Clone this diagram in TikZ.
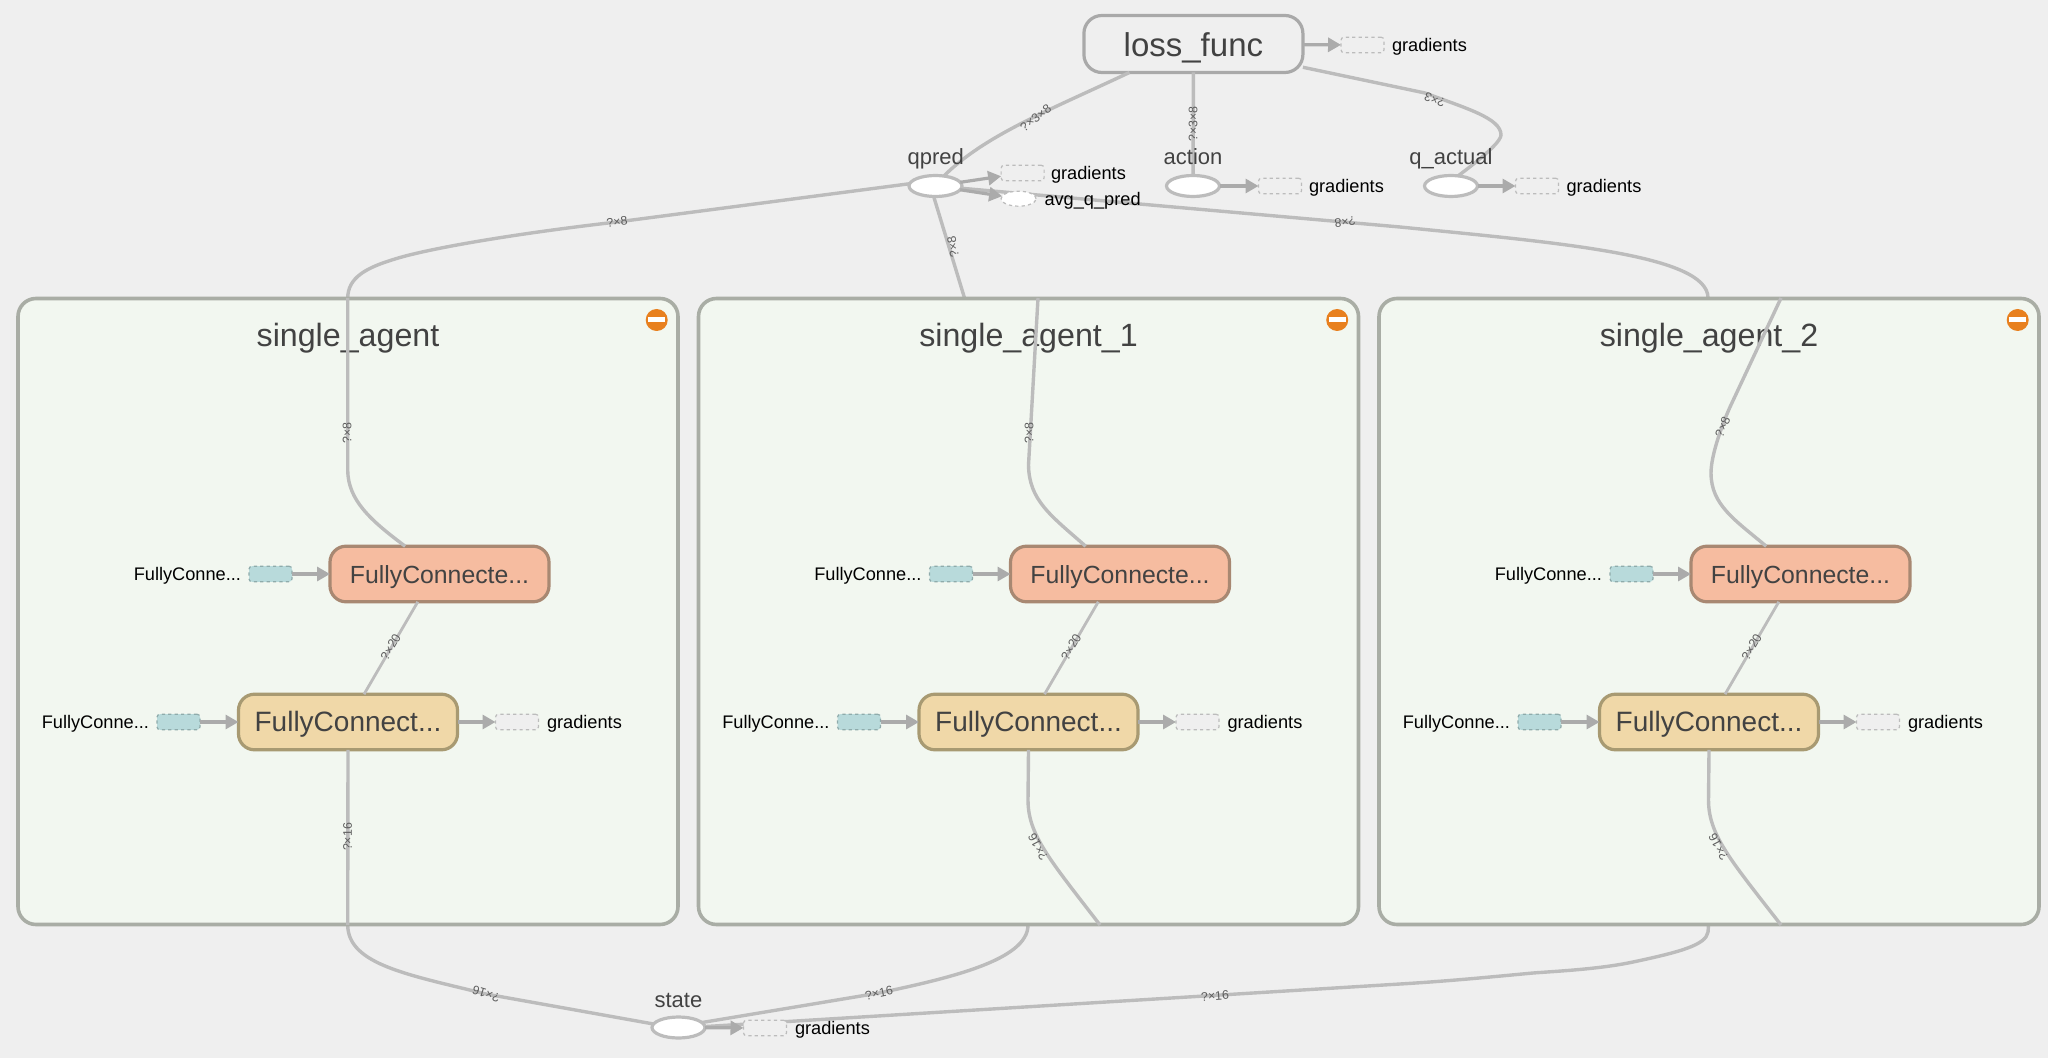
\documentclass[tikz,border=0pt]{standalone}
\usepackage{fontspec}
\setmainfont{Liberation Sans}
\usetikzlibrary{arrows.meta,shapes.geometric}
\definecolor{bgc}{HTML}{EFEFEF}
\definecolor{groupfill}{HTML}{F2F7F0}
\definecolor{groupline}{HTML}{A9ADA5}
\definecolor{edgec}{HTML}{BCBCBC}
\definecolor{tipc}{HTML}{ABABAB}
\definecolor{txt}{HTML}{424242}
\definecolor{salmon}{HTML}{F6BCA0}
\definecolor{salmonline}{HTML}{A88872}
\definecolor{sand}{HTML}{F0D8A8}
\definecolor{sandline}{HTML}{A89A72}
\definecolor{teal}{HTML}{B8DADB}
\definecolor{tealline}{HTML}{8FABAB}
\definecolor{iconc}{HTML}{E8801F}
\tikzset{
  x=0.5pt,y=-0.5pt,
  edge/.style={draw=edgec,line width=1.7pt},
  flow/.style={draw=tipc,line width=1.6pt,-{Triangle[length=6.5pt,width=7pt,fill=tipc]}},
  grouppanel/.style={draw=groupline,fill=groupfill,line width=1.8pt,rounded corners=9pt,minimum width=330pt,minimum height=313pt,inner sep=0pt,outer sep=0pt},
  fcbox/.style={line width=1.6pt,rounded corners=8pt,minimum width=109.5pt,minimum height=27.8pt,inner sep=0pt,outer sep=0pt,text=txt,text depth=0pt},
  fcupper/.style={fcbox,draw=salmonline,fill=salmon,text height=9pt,font=\fontsize{12.4}{14}\selectfont},
  fclower/.style={fcbox,draw=sandline,fill=sand,text height=9.2pt,font=\fontsize{14}{16}\selectfont},
  lossbox/.style={line width=1.6pt,rounded corners=9pt,draw=edgec!90!black,fill=bgc,minimum width=109.5pt,minimum height=28.5pt,inner sep=0pt,outer sep=0pt,text=txt,text height=12.3pt,text depth=0pt,font=\fontsize{16.5}{19}\selectfont},
  opnode/.style={ellipse,draw=edgec,fill=white,line width=1.6pt,minimum width=26.5pt,minimum height=10.5pt,inner sep=0pt,outer sep=0pt},
  dashbox/.style={draw=edgec,fill=bgc,line width=0.6pt,dash pattern=on 1.6pt off 1.6pt,rounded corners=1.5pt,minimum width=21.5pt,minimum height=7.8pt,inner sep=0pt,outer sep=0pt},
  tealbox/.style={dashbox,draw=tealline,fill=teal},
  dashellipse/.style={ellipse,draw=edgec,fill=white,line width=0.6pt,dash pattern=on 1.6pt off 1.6pt,minimum width=17.5pt,minimum height=7.5pt,inner sep=0pt,outer sep=0pt},
  small/.style={inner sep=0pt,outer sep=0pt,text=black,text height=6.3pt,text depth=0pt,font=\fontsize{9.1}{11}\selectfont},
  oplabel/.style={inner sep=0pt,outer sep=0pt,text=txt,text height=8pt,text depth=0pt,font=\fontsize{11}{13}\selectfont},
  grouptitle/.style={inner sep=0pt,outer sep=0pt,text=txt,text height=11.5pt,text depth=0pt,font=\fontsize{16.1}{19}\selectfont},
  shape label/.style={inner sep=0pt,outer sep=0pt,text=txt!85,font=\fontsize{6.2}{7}\selectfont},
}
\begin{document}
\begin{tikzpicture}
\useasboundingbox (0,0) rectangle (2048,1058);
\fill[bgc] (0,0) rectangle (2048,1058);

% top-level operation nodes are named first, so connectors can use them
\node[lossbox] (loss) at (1193.4,44) {loss\_func};
\node[opnode] (qpred) at (935.5,186) {};
\node[opnode] (action) at (1193,186) {};
\node[opnode] (qactual) at (1451,186) {};
\node[opnode] (state) at (678.5,1027.5) {};
\coordinate (top1) at (347.7,298);
\coordinate (top2) at (964.5,298);
\coordinate (top3) at (1708,298);
\coordinate (bot1) at (347.7,925);
\coordinate (bot2) at (1028,925);
\coordinate (bot3) at (1708.5,925);

% edges between the outer nodes, under the group panels
\draw[edge] (qpred.175) -- (617,222) .. controls (520,233) and (430,248) .. (395,259)
   .. controls (365,268) and (348,278) .. (top1);
\draw[edge] (qpred.-100) -- (top2);
\draw[edge] (qpred.-5) -- (1400,227) .. controls (1560,243) and (1708,255) .. (top3);
\draw[edge] (qpred.50) .. controls (985,135) and (1050,110) .. (loss.204.4);
\draw[edge] (action) -- (loss.south);
\draw[edge] (qactual.55) .. controls (1490,152) and (1501,140) .. (1501,135)
   .. controls (1501,118) and (1465,108) .. (1425,93) -- (loss.-12.4);
\draw[edge] (bot1) .. controls (348,965) and (410,975) .. (486,994) -- (state.172);
\draw[edge] (bot2) .. controls (1028,960) and (950,978) .. (879,993) -- (state.12);
\draw[edge] (bot3) -- (1708,932) .. controls (1706,945) and (1680,952) .. (1633,962)
   .. controls (1600,969) and (1560,971) .. (1533,973) .. controls (1490,977) and (1450,981) .. (1400,984) -- (state.2);

% group panels
\foreach \i/\xs/\tt in {1/0/single\_agent,2/680.5/single\_agent\_1,3/1361/single\_agent\_2}{
\begin{scope}[shift={(\xs,0)}]
  \node[grouppanel] (panel\i) at (348,611.5) {};
  \node[grouptitle] (title\i) at (348,335) {\tt};
  \node[circle,fill=iconc,minimum size=11pt,inner sep=0pt] (minus\i) at (656.7,320) {};
  \fill[white] (minus\i.center) +(-8.5,-2.5) rectangle +(8.5,2.5);
  \node[fcupper] (fcu\i) at (439.5,574) {FullyConnecte...};
  \node[fclower] (fcl\i) at (348,722) {FullyConnect...};
  \node[tealbox] (tu\i) at (270.5,574) {};
  \node[tealbox] (tl\i) at (178.5,722) {};
  \node[dashbox] (gr\i) at (517,722) {};
  \node[small,anchor=east] (tul\i) at (241,574) {FullyConne...};
  \node[small,anchor=east] (tll\i) at (149,722) {FullyConne...};
  \node[small,anchor=west] (grl\i) at (547,722) {gradients};
  \draw[flow] (tu\i) -- (fcu\i);
  \draw[flow] (tl\i) -- (fcl\i);
  \draw[flow] (fcl\i) -- (gr\i);
  \draw[edge,line width=1.4pt] (fcl\i.60) -- (fcu\i.232);
  \node[shape label,rotate=60] (lab20\i) at (390.6,647) {?×20};
\end{scope}
}

% edges inside the panels
\coordinate (in2) at (1038,298);
\coordinate (in3) at (1781,298);
\coordinate (out2) at (1100,925);
\coordinate (out3) at (1781,925);
\draw[edge] (fcu1.141) .. controls (370,520) and (348,500) .. (347.7,470) -- (top1);
\draw[edge] (fcu2.141) .. controls (1050,515) and (1029,500) .. (1028.5,465) -- (in2);
\draw[edge] (fcu3.141) .. controls (1735,520) and (1711,505) .. (1711,473)
   .. controls (1711,455) and (1722,425) .. (1730,407) -- (in3);
\draw[edge] (fcl1.south) -- (bot1);
\draw[edge] (fcl2.south) -- (1028,800) .. controls (1028,835) and (1050,860) .. (out2);
\draw[edge] (fcl3.south) -- (1708.5,800) .. controls (1708.5,835) and (1730.5,860) .. (out3);

% top labels and remaining nodes
\node[oplabel] (qpredl) at (935.8,157) {qpred};
\node[oplabel] (actionl) at (1193,157) {action};
\node[oplabel] (qactuall) at (1451,157) {q\_actual};
\node[oplabel] (statel) at (678.4,999) {state};
\node[dashbox] (gloss) at (1362.5,45) {};
\node[dashbox] (gqpred) at (1022.6,173) {};
\node[dashellipse] (avg) at (1018.6,198.7) {};
\node[dashbox] (gaction) at (1280,186) {};
\node[dashbox] (gqactual) at (1537,186) {};
\node[dashbox] (gstate) at (765,1028) {};
\node[small,anchor=west] (lgloss) at (1392,45) {gradients};
\node[small,anchor=west] (lgqpred) at (1051,173) {gradients};
\node[small,anchor=west] (lavg) at (1044.5,199.5) {avg\_q\_pred};
\node[small,anchor=west] (lgaction) at (1309,186) {gradients};
\node[small,anchor=west] (lgqactual) at (1566.5,186) {gradients};
\node[small,anchor=west] (lgstate) at (795,1028) {gradients};
\draw[flow] (loss) -- (gloss);
\draw[flow] (qpred) -- (gqpred);
\draw[flow] (qpred) -- (avg);
\draw[flow] (action) -- (gaction);
\draw[flow] (qactual) -- (gqactual);
\draw[flow] (state) -- (gstate);

% edge shape labels
\node[shape label,rotate=38] (s1) at (1035.7,118) {?×3×8};
\node[shape label,rotate=90] (s2) at (1193,124) {?×3×8};
\node[shape label,rotate=159] (s3) at (1434.7,100) {?×3};
\node[shape label,rotate=7] (s4) at (617,222) {?×8};
\node[shape label,rotate=101] (s5) at (953,247) {?×8};
\node[shape label,rotate=185] (s6) at (1345,222) {?×8};
\node[shape label,rotate=90] (s7) at (347,433) {?×8};
\node[shape label,rotate=90] (s8) at (1029,433) {?×8};
\node[shape label,rotate=68] (s9) at (1722.7,427) {?×8};
\node[shape label,rotate=90] (s10) at (347.5,837) {?×16};
\node[shape label,rotate=118] (s11) at (1038,847) {?×16};
\node[shape label,rotate=118] (s12) at (1718.5,847) {?×16};
\node[shape label,rotate=163] (s13) at (486,994) {?×16};
\node[shape label,rotate=12] (s14) at (879,993) {?×16};
\node[shape label,rotate=4] (s15) at (1215,996) {?×16};
\end{tikzpicture}
\end{document}
